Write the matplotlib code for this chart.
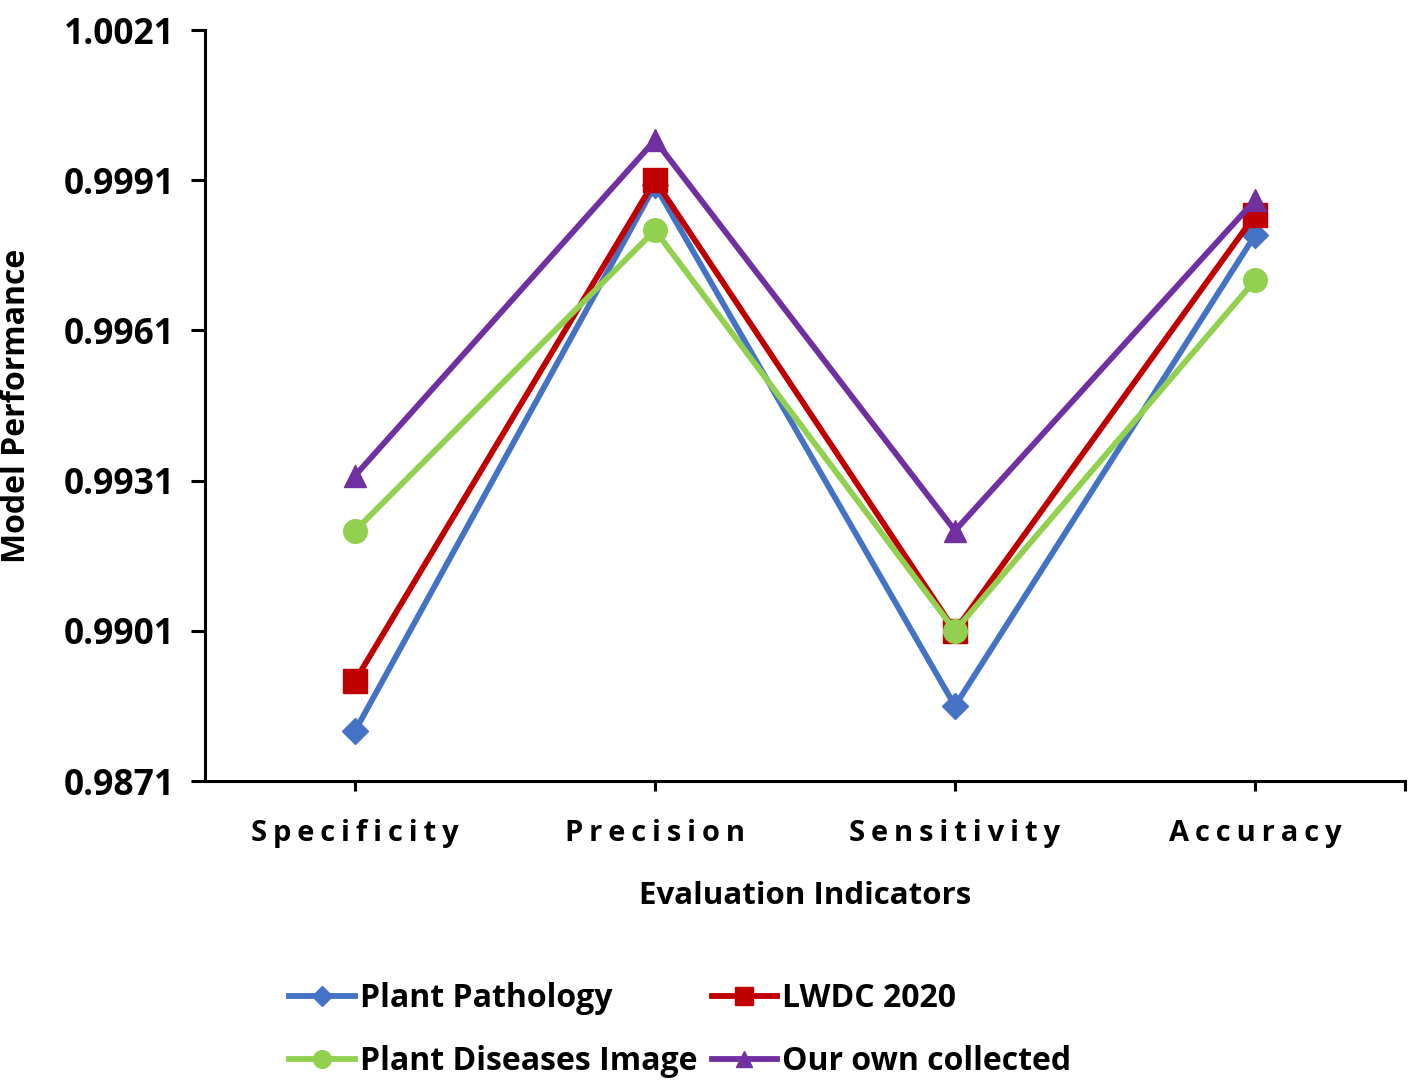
import matplotlib
matplotlib.use("Agg")
import matplotlib.pyplot as plt
import numpy as np

categories = ["Specificity", "Precision", "Sensitivity", "Accuracy"]
plant_pathology = [0.9881, 0.9990, 0.9886, 0.9980]
lwdc_2020 = [0.9891, 0.9991, 0.9901, 0.9984]
plant_diseases = [0.9921, 0.9981, 0.9901, 0.9971]
own_collected = [0.9932, 0.9999, 0.9921, 0.9987]
y_ticks = [0.9871, 0.9901, 0.9931, 0.9961, 0.9991, 1.0021]

FONT = ["Open Sans", "DejaVu Sans"]
plt.rcParams["font.family"] = FONT

fig = plt.figure(figsize=(14.17, 10.81), dpi=100)
ax = fig.add_axes([0.1447, 0.2775, 0.8468, 0.6947])

x = np.arange(len(categories))
series = [
    ("Plant Pathology", plant_pathology, "#4472C4", "D", 13),
    ("LWDC 2020", lwdc_2020, "#C00000", "s", 17),
    ("Plant Diseases Image", plant_diseases, "#92D050", "o", 17),
    ("Our own collected", own_collected, "#7030A0", "^", 16),
]
handles = {}
for name, vals, col, mk, ms in series:
    h, = ax.plot(x, vals, color=col, lw=4.2, marker=mk, ms=ms, mec=col, mfc=col,
                 label=name, solid_joinstyle="miter", clip_on=False)
    handles[name] = h

ax.set_xlim(-0.5, 3.5)
ax.set_ylim(y_ticks[0], y_ticks[-1])
ax.set_yticks(y_ticks)
ax.set_yticklabels([f"{v:.4f}" for v in y_ticks], fontsize=25.5, fontweight="bold")
ax.set_xticks(list(x) + [3.5])
spaced = ["\u2009".join(c) for c in categories]
ax.set_xticklabels(spaced + [""], fontsize=21, fontweight="bold")
ax.tick_params(axis="y", direction="out", length=10, width=2.2, pad=12)
ax.tick_params(axis="x", direction="out", length=7, width=2.2, pad=20)

for s in ["top", "right"]:
    ax.spines[s].set_visible(False)
for s in ["left", "bottom"]:
    ax.spines[s].set_linewidth(2.2)

ax.set_xlabel("Evaluation Indicators", fontsize=22.5, fontweight="bold", labelpad=24)
ax.set_ylabel("Model Performance", fontsize=23, fontweight="bold")
ax.yaxis.set_label_coords(-0.143, 0.5)

order = ["Plant Pathology", "Plant Diseases Image", "LWDC 2020", "Our own collected"]
fig.legend([handles[n] for n in order], order, loc="center",
           bbox_to_anchor=(0.48, 0.047), ncol=2, frameon=False,
           prop={"size": 23, "weight": "bold", "family": FONT},
           handlelength=2.05, handletextpad=0.15, columnspacing=0.45,
           labelspacing=0.95, markerscale=0.75)

fig.savefig("out.png", dpi=100, facecolor="white")
